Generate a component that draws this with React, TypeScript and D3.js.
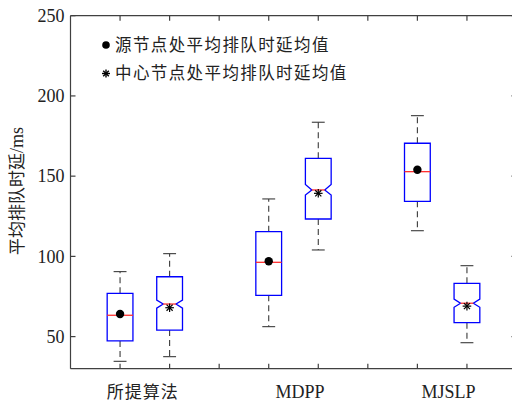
import React from 'react';
import * as d3 from 'd3';

const categories = ['所提算法', 'MDPP', 'MJSLP'];
const categoryPos = [1.46, 4.63, 7.63];
const xTicks = [1, 2, 3, 4, 5, 6, 7, 8];
const yTicks = [50, 100, 150, 200, 250];

const boxPos = [1, 2, 4, 5, 7, 8];
const boxKind = ['source', 'center', 'source', 'center', 'source', 'center'];
const whiskerLow = [34.6, 37.5, 56.2, 104, 116, 46.2];
const q1 = [47.3, 54.1, 75.7, 123.3, 134.3, 58.7];
const median = [63.3, 70.3, 96.3, 141.4, 152.8, 70.8];
const q3 = [77, 87.3, 115.4, 161.1, 170.5, 83.2];
const whiskerHigh = [90.5, 101.7, 135.8, 183.6, 187.7, 94.2];
const notchLow = [null, 67.7, null, 138.2, null, 68.3];
const notchHigh = [null, 72.8, null, 144.8, null, 73.4];
const means = [64.1, 68, 97, 139.3, 154, 69];

const legendLabels = ['源节点处平均排队时延均值', '中心节点处平均排队时延均值'];

const W = 512;
const H = 403;
const axisColor = '#404040';
const serif = '"Liberation Serif", "Times New Roman", serif';
const cjk = '"Noto Sans CJK SC", "Noto Sans", sans-serif';

function Star({ cx, cy, r, w = 1.2 }: { cx: number; cy: number; r: number; w?: number }) {
  const d = r * 0.7071;
  return (
    <g stroke="#000" strokeWidth={w}>
      <line x1={cx - r} y1={cy} x2={cx + r} y2={cy} />
      <line x1={cx} y1={cy - r} x2={cx} y2={cy + r} />
      <line x1={cx - d} y1={cy - d} x2={cx + d} y2={cy + d} />
      <line x1={cx - d} y1={cy + d} x2={cx + d} y2={cy - d} />
    </g>
  );
}

export default function App() {
  const x = d3.scaleLinear().domain([0, 9]).range([70.5, 516.5]);
  const y = d3.scaleLinear().domain([30, 250]).range([368.7, 15.7]);
  const boxW = 0.52;
  const capW = 0.26;
  const [x0, x1] = x.range();
  const [yb, yt] = y.range();

  return (
    <svg
      width={W}
      height={H}
      style={{ position: 'absolute', left: 0, top: 0, background: '#fff' }}
    >
      <rect x={0} y={0} width={W} height={H} fill="#fff" />
      <g stroke={axisColor} strokeWidth={1.2} fill="none">
        <line x1={x0} y1={yb} x2={x1} y2={yb} />
        <line x1={x0} y1={yt} x2={x1} y2={yt} />
        <line x1={x0} y1={yt} x2={x0} y2={yb} />
        <line x1={x1} y1={yt} x2={x1} y2={yb} />
        {xTicks.map((t) => (
          <g key={'xt' + t}>
            <line x1={x(t)} y1={yb} x2={x(t)} y2={yb - 5} />
            <line x1={x(t)} y1={yt} x2={x(t)} y2={yt + 5} />
          </g>
        ))}
        {yTicks.map((t) => (
          <g key={'yt' + t}>
            <line x1={x0} y1={y(t)} x2={x0 + 5} y2={y(t)} />
            <line x1={x1} y1={y(t)} x2={x1 - 5} y2={y(t)} />
          </g>
        ))}
      </g>
      {yTicks.map((t) => (
        <text
          key={'yl' + t}
          x={x0 - 6}
          y={y(t)}
          dy="0.35em"
          textAnchor="end"
          fontFamily={serif}
          fontSize={18}
          fill="#222"
        >
          {t}
        </text>
      ))}
      {categories.map((c, i) => {
        const latin = /[A-Z]/.test(c);
        return (
          <text
            key={'c' + i}
            x={x(categoryPos[i])}
            y={398}
            textAnchor="middle"
            fontFamily={latin ? serif : cjk}
            fontSize={latin ? 18 : 17}
            letterSpacing={latin ? 0 : 1}
            fill="#222"
          >
            {c}
          </text>
        );
      })}
      <text
        transform={`translate(23, 191) rotate(-90)`}
        textAnchor="middle"
        fontFamily={cjk}
        fontSize={17}
        fill="#222"
      >
        <tspan>平均排队时延</tspan>
        <tspan fontFamily={serif} fontSize={18}>/ms</tspan>
      </text>

      {boxPos.map((p, i) => {
        const cx = x(p);
        const hw = (x(p + boxW / 2) - x(p - boxW / 2)) / 2;
        const cw = (x(p + capW / 2) - x(p - capW / 2)) / 2;
        const L = cx - hw;
        const R = cx + hw;
        const nl = notchLow[i];
        const nh = notchHigh[i];
        const notched = nl !== null && nh !== null;
        const ind = hw / 2;
        const path = notched
          ? `M${L},${y(q3[i])} L${L},${y(nh as number)} L${L + ind},${y(median[i])} L${L},${y(nl as number)} L${L},${y(q1[i])} L${R},${y(q1[i])} L${R},${y(nl as number)} L${R - ind},${y(median[i])} L${R},${y(nh as number)} L${R},${y(q3[i])} Z`
          : `M${L},${y(q3[i])} L${L},${y(q1[i])} L${R},${y(q1[i])} L${R},${y(q3[i])} Z`;
        return (
          <g key={'b' + i}>
            <g stroke="#3a3a3a" strokeWidth={1.1} fill="none">
              <line x1={cx} y1={y(q3[i])} x2={cx} y2={y(whiskerHigh[i])} strokeDasharray="6,4" />
              <line x1={cx} y1={y(q1[i])} x2={cx} y2={y(whiskerLow[i])} strokeDasharray="6,4" />
              <line x1={cx - cw} y1={y(whiskerHigh[i])} x2={cx + cw} y2={y(whiskerHigh[i])} />
              <line x1={cx - cw} y1={y(whiskerLow[i])} x2={cx + cw} y2={y(whiskerLow[i])} />
            </g>
            <path d={path} fill="none" stroke="#0000ff" strokeWidth={1.3} />
            <line
              x1={notched ? L + ind : L}
              x2={notched ? R - ind : R}
              y1={y(median[i])}
              y2={y(median[i])}
              stroke="#ff3030"
              strokeWidth={1.3}
            />
            {boxKind[i] === 'source' ? (
              <circle cx={cx} cy={y(means[i])} r={4.2} fill="#000" />
            ) : (
              <Star cx={cx} cy={y(means[i])} r={4.3} />
            )}
          </g>
        );
      })}

      <circle cx={106} cy={45} r={3.8} fill="#000" />
      <Star cx={106} cy={73.5} r={4} w={1.4} />
      {legendLabels.map((l, i) => (
        <text
          key={'lg' + i}
          x={115}
          y={45 + i * 28.5}
          dy="0.36em"
          fontFamily={cjk}
          fontSize={16.5}
          letterSpacing={1.4}
          fill="#222"
        >
          {l}
        </text>
      ))}
    </svg>
  );
}
